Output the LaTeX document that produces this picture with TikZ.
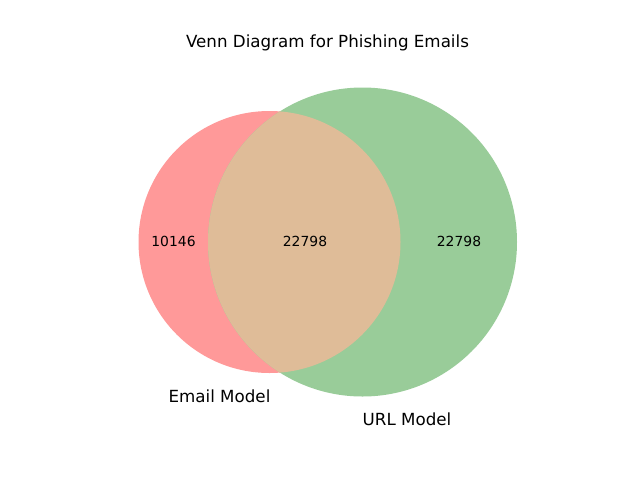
\documentclass[tikz,border=0pt]{standalone}
\usepackage{fontspec}
\setmainfont{DejaVu Sans}
\begin{document}
\begin{tikzpicture}[x=1pt,y=-1pt,
  setA/.style={fill=vennred},
  setB/.style={fill=venngreen},
  both/.style={fill=vennmix},
  count/.style={font=\fontsize{13.9}{16}\selectfont, inner sep=0pt},
  setlabel/.style={font=\fontsize{16.7}{19}\selectfont, inner sep=0pt}]
\definecolor{vennred}{HTML}{FF9999}
\definecolor{venngreen}{HTML}{99CC99}
\definecolor{vennmix}{HTML}{DFBC98}
\useasboundingbox (0,0) rectangle (640,480);
\fill[white] (0,0) rectangle (640,480);
% the two sets
\path[setA] (269.5,242) circle (131);
\path[setB] (362.5,242) circle (154.5);
% their intersection
\begin{scope}
  \clip (269.5,242) circle (131);
  \path[both] (362.5,242) circle (154.5);
\end{scope}
% region counts
\node[count] (onlyA) at (173.5,241.5) {10146};
\node[count] (ab) at (305,241.5) {22798};
\node[count] (onlyB) at (459,241.5) {22798};
% set names and title
\node[setlabel] (labA) at (219.5,396) {Email Model};
\node[setlabel] (labB) at (407,419) {URL Model};
\node[setlabel] (title) at (327.5,43) {Venn Diagram for Phishing Emails};
\end{tikzpicture}
\end{document}
